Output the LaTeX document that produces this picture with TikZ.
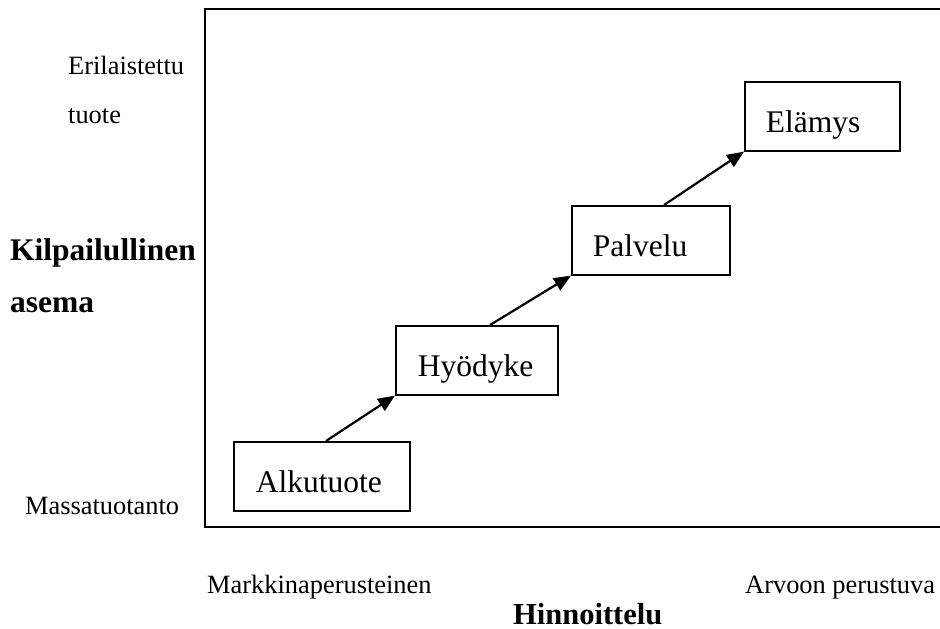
\documentclass[tikz,border=0pt]{standalone}
\usepackage{fontspec}
\setmainfont{Liberation Serif}
\usetikzlibrary{arrows.meta,calc}
\begin{document}
\begin{tikzpicture}[x=1pt,y=-1pt,
  lbl/.style={inner sep=0pt, anchor=base west, font=\fontsize{26.4}{30}\selectfont},
  blbl/.style={inner sep=0pt, anchor=base west, font=\fontsize{31.5}{34}\selectfont\bfseries},
  stagebox/.style={draw, line width=1.6pt, inner sep=0pt, align=left,
    minimum height=69pt, text height=51pt, text depth=18pt,
    font=\fontsize{31.5}{34}\selectfont},
  arr/.style={line width=2.2pt, -{Triangle[length=17pt,width=14pt]}}]
\useasboundingbox (0,0) rectangle (940,629);
% frame (open to the right edge)
\coordinate (ftr) at (942,9);
\coordinate (ftl) at (205,9);
\coordinate (fbl) at (205,527);
\coordinate (fbr) at (942,527);
\draw[line width=1.8pt] (ftr) -- (ftl) -- (fbl) -- (fbr);
% stage boxes
\node[stagebox, text width=176pt, anchor=north west] (alk) at (233,441) {\hspace*{22pt}Alkutuote};
\node[stagebox, text width=162pt, anchor=north west] (hyo) at (395,325) {\hspace*{22pt}Hyödyke};
\node[stagebox, text width=158pt, anchor=north west] (pal) at (571,205) {\hspace*{21pt}Palvelu};
\node[stagebox, text width=155pt, anchor=north west] (ela) at (744,81) {\hspace*{21pt}Elämys};
% arrows
\draw[arr] ([xshift=93pt]alk.north west) -- (hyo.south west);
\draw[arr] ([xshift=95pt]hyo.north west) -- (pal.south west);
\draw[arr] ([xshift=93pt]pal.north west) -- (ela.south west);
% axis labels
\node[lbl] (eri) at (68,74) {Erilaistettu};
\node[lbl] (tuo) at (68,123) {tuote};
\node[blbl] (kil) at (10,260) {Kilpailullinen};
\node[blbl] (ase) at (10,312) {asema};
\node[lbl] (mas) at (25,514) {Massatuotanto};
\node[lbl] (mar) at (207,593) {Markkinaperusteinen};
\node[lbl] (arv) at (745,593) {Arvoon perustuva};
\node[blbl, font=\fontsize{30.5}{34}\selectfont\bfseries] (hin) at (513,624) {Hinnoittelu};
\end{tikzpicture}
\end{document}
